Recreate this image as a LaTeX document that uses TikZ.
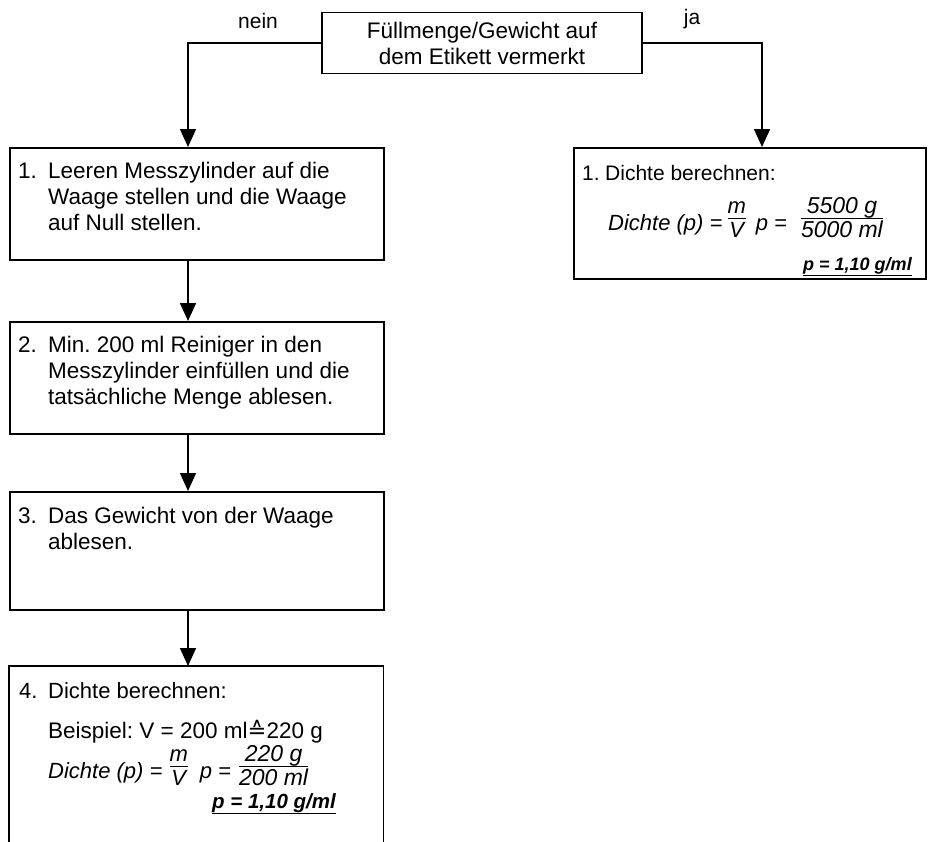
\documentclass[tikz,border=0pt]{standalone}
\usepackage{fontspec}
\setmainfont{Liberation Sans}
\newfontfamily\djv{DejaVu Sans}
\usetikzlibrary{arrows.meta}
\newcommand\myfr[2]{\raisebox{-7pt}{\setlength\arrayrulewidth{1.2pt}\begin{tabular}[b]{@{}c@{}}#1\\[-4pt]\hline #2\end{tabular}}}
\newcommand\fsz[1]{\fontsize{#1}{26}\selectfont}
\begin{document}
\frenchspacing
\begin{tikzpicture}[x=1pt,y=-1pt,
  every node/.style={font=\fsz{22.5}},
  boxline/.style={draw=black,line width=1.5pt},
  box/.style={boxline,inner sep=0pt,anchor=north west},
  txt/.style={inner sep=0pt,anchor=base west},
  arr/.style={line width=1.5pt,-{Triangle[length=18pt,width=16pt]}},
  lbl/.style={inner sep=0pt,anchor=center}]
\useasboundingbox (0,0) rectangle (936,841);
\fill[white] (0,0) rectangle (936,841);
% boxes
\node[boxline,inner sep=0pt,minimum width=320pt,minimum height=61pt,align=center] (top) at (482,43) {F\"ullmenge/Gewicht auf\\dem Etikett vermerkt};
\node[box,minimum width=374pt,minimum height=112pt] (b1) at (9,147) {};
\node[box,minimum width=374pt,minimum height=112pt] (b2) at (9,321) {};
\node[box,minimum width=374pt,minimum height=118pt] (b3) at (9,491) {};
\node[inner sep=0pt,anchor=north west,minimum width=374pt,minimum height=178pt] (b4) at (9,666) {};
\draw[boxline] (b4.south west) -- (b4.north west) -- (b4.north east) -- (b4.south east);
\node[box,minimum width=352pt,minimum height=131pt] (rb) at (573,147) {};
% labels
\node[lbl,font=\fsz{21}] (nein) at (258,21) {nein};
\node[lbl,font=\fsz{21}] (ja) at (692,19) {ja};
% connectors
\coordinate (ax) at (188,0);
\coordinate (rx) at (762,0);
\draw[arr] (top.west) -| (b1.north -| ax);
\draw[arr] (top.east) -| (rb.north -| rx);
\draw[arr] (b1.south -| ax) -- (b2.north -| ax);
\draw[arr] (b2.south -| ax) -- (b3.north -| ax);
\draw[arr] (b3.south -| ax) -- (b4.north -| ax);
% texts
\node[txt] (t1) at (18,178) {\begin{tabular}[t]{@{}p{30pt}@{}l@{}}1. & Leeren Messzylinder auf die\\ & Waage stellen und die Waage\\ & auf Null stellen.\end{tabular}};
\node[txt] (t2) at (18,352) {\begin{tabular}[t]{@{}p{30pt}@{}l@{}}2. & Min. 200 ml Reiniger in den\\ & Messzylinder einf\"ullen und die\\ & tats\"achliche Menge ablesen.\end{tabular}};
\node[txt] (t3) at (18,523) {\begin{tabular}[t]{@{}p{30pt}@{}l@{}}3. & Das Gewicht von der Waage\\ & ablesen.\end{tabular}};
\node[txt,font=\fsz{22}] (t4) at (19,698) {\begin{tabular}[t]{@{}p{29pt}@{}l@{}}4. & Dichte berechnen:\end{tabular}};
\node[txt] (t4b) at (48,738) {Beispiel: V = 200 ml{\djv ≙}220 g};
\node[txt,font=\fsz{22}] (t4c) at (48,778) {\itshape Dichte (p) =\hspace{7pt}\myfr{m}{V}\hspace{12pt}p =\hspace{8pt}{\fsz{23}\myfr{220 g}{200 ml}}};
\node[txt,font=\fsz{20.5}] (t4d) at (212,808) {\underline{\bfseries\itshape p = 1,10 g/ml}};
\node[txt,font=\fsz{21}] (r1) at (582,180) {\begin{tabular}[t]{@{}p{23pt}@{}l@{}}1. & Dichte berechnen:\end{tabular}};
\node[txt,font=\fsz{22}] (r2) at (608,230) {\itshape Dichte (p) =\hspace{5pt}\myfr{m}{V}\hspace{10pt}p =\hspace{14pt}{\fsz{23}\myfr{5500 g}{5000 ml}}};
\node[txt,font=\fsz{18}] (r3) at (803,270) {\underline{\bfseries\itshape p = 1,10 g/ml}};
\end{tikzpicture}
\end{document}
